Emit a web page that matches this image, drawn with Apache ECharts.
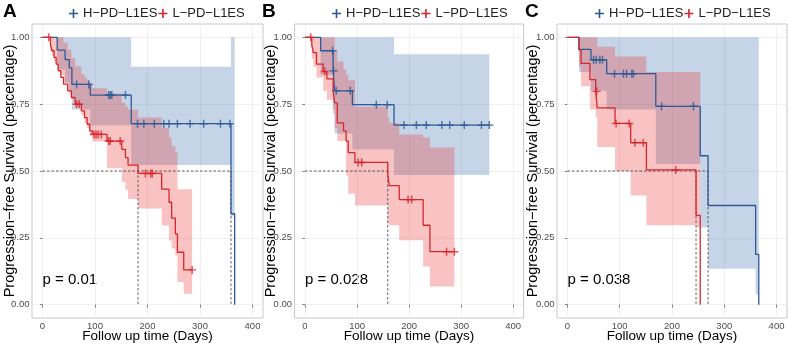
<!DOCTYPE html>
<html>
<head>
<meta charset="utf-8">
<title>Progression-free survival by PD-L1ES</title>
<script src="https://cdn.jsdelivr.net/npm/echarts@6/dist/echarts.min.js"></script>
<style>
  html, body { margin: 0; padding: 0; background: #fff; }
  #chart { width: 788px; height: 346px; }
</style>
</head>
<body>
<div id="chart"></div>
<script>
const xTicks = [0, 100, 200, 300, 400]
const yTicks = [0, 0.25, 0.5, 0.75, 1]
const groupNames = ['H−PD−L1ES', 'L−PD−L1ES']
const panelLetters = ['A', 'B', 'C']
const pLabels = ['p = 0.01', 'p = 0.028', 'p = 0.038']

// panel A
const aHighTime = [0, 28, 43, 51, 56, 91, 169, 359, 366]
const aHighSurv = [1, 0.952, 0.917, 0.886, 0.824, 0.784, 0.677, 0.34, 0]
const aHighUpper = [1, 1, 1, 1, 1, 1, 0.89, 1, 1]
const aHighLower = [1, 0.88, 0.83, 0.79, 0.73, 0.67, 0.522, 0.33, 0.33]
const aHighCensor = [65, 88, 126, 129, 132, 158, 181, 193, 213, 231, 241, 257, 281, 307, 339, 357]
const aLowTime = [0, 15, 18, 22, 26, 30, 35, 40, 48, 55, 62, 74, 80, 85, 90, 95, 123, 151, 158, 163, 182, 227, 241, 246, 253, 257, 269, 285]
const aLowSurv = [1, 0.975, 0.95, 0.925, 0.9, 0.875, 0.85, 0.825, 0.8, 0.775, 0.75, 0.725, 0.7, 0.675, 0.65, 0.637, 0.612, 0.581, 0.55, 0.522, 0.491, 0.432, 0.383, 0.324, 0.265, 0.196, 0.13, 0.13]
const aLowUpper = [1, 1, 1, 1, 1, 1, 1, 0.98, 0.954, 0.923, 0.892, 0.861, 0.85, 0.84, 0.83, 0.81, 0.79, 0.755, 0.74, 0.73, 0.7, 0.662, 0.625, 0.594, 0.57, 0.432, 0.432, 0.432]
const aLowLower = [1, 0.95, 0.93, 0.91, 0.9, 0.88, 0.86, 0.83, 0.8, 0.77, 0.74, 0.71, 0.68, 0.66, 0.63, 0.61, 0.51, 0.46, 0.43, 0.395, 0.36, 0.296, 0.24, 0.21, 0.184, 0.085, 0.041, 0.041]
const aLowCensor = [12, 65, 70, 98, 102, 106, 112, 126, 129, 148, 196, 206, 209, 285]
const aMedians = [182, 359]

// panel B
const bHighTime = [0, 30, 54, 57, 91, 171, 354]
const bHighSurv = [1, 0.95, 0.875, 0.8, 0.748, 0.672, 0.672]
const bHighUpper = [1, 1, 1, 1, 1, 0.937, 0.937]
const bHighLower = [1, 0.86, 0.73, 0.64, 0.58, 0.485, 0.485]
const bHighCensor = [53, 55, 60, 87, 137, 158, 190, 214, 233, 263, 278, 306, 339, 354]
const bLowTime = [0, 13, 16, 22, 35, 42, 54, 57, 62, 74, 79, 83, 96, 159, 162, 181, 227, 240, 287]
const bLowSurv = [1, 0.971, 0.943, 0.9, 0.872, 0.845, 0.8, 0.755, 0.68, 0.65, 0.612, 0.569, 0.532, 0.483, 0.445, 0.393, 0.297, 0.198, 0.198]
const bLowUpper = [1, 1, 1, 1, 1, 1, 1, 0.95, 0.91, 0.88, 0.86, 0.84, 0.74, 0.7, 0.68, 0.637, 0.625, 0.588, 0.588]
const bLowLower = [1, 0.92, 0.89, 0.85, 0.8, 0.767, 0.712, 0.66, 0.612, 0.612, 0.483, 0.415, 0.371, 0.3, 0.297, 0.241, 0.143, 0.068, 0.068]
const bLowCensor = [11, 38, 102, 109, 198, 205, 272, 287]
const bMedians = [159]

// panel C
const cHighTime = [0, 22, 45, 75, 169, 254, 269, 360, 366]
const cHighSurv = [1, 0.955, 0.916, 0.864, 0.742, 0.557, 0.371, 0.188, 0]
const cHighUpper = [1, 1, 1, 1, 1, 1, 1, 1, 1]
const cHighLower = [1, 0.87, 0.8, 0.73, 0.526, 0.289, 0.134, 0.037, 0.037]
const cHighCensor = [50, 55, 62, 67, 90, 107, 113, 123, 126, 180, 241]
const cLowTime = [0, 22, 26, 43, 54, 57, 91, 121, 151, 246, 254]
const cLowSurv = [1, 0.953, 0.903, 0.842, 0.798, 0.736, 0.678, 0.606, 0.504, 0.334, 0]
const cLowUpper = [1, 1, 1, 1, 1, 0.965, 0.928, 0.928, 0.87, 0.87, 0.87]
const cLowLower = [1, 0.89, 0.817, 0.73, 0.7, 0.59, 0.5, 0.408, 0.297, 0.29, 0.29]
const cLowCensor = [56, 93, 118, 129, 145, 207]
const cMedians = [246, 269]

const lineColors = ['#2c5a96', '#d8262b']
const bandColors = ['rgba(50, 100, 170, 0.28)', 'rgba(235, 40, 40, 0.28)']
const plusIcon = 'path://M-0.9,-5H0.9V-0.9H5V0.9H0.9V5H-0.9V0.9H-5V-0.9H-0.9Z'
const fontFamily = '"Liberation Sans", Arial, sans-serif'

const panels = [
  {
    groups: [
      { time: aHighTime, surv: aHighSurv, upper: aHighUpper, lower: aHighLower, censor: aHighCensor },
      { time: aLowTime, surv: aLowSurv, upper: aLowUpper, lower: aLowLower, censor: aLowCensor }
    ],
    medians: aMedians
  },
  {
    groups: [
      { time: bHighTime, surv: bHighSurv, upper: bHighUpper, lower: bHighLower, censor: bHighCensor },
      { time: bLowTime, surv: bLowSurv, upper: bLowUpper, lower: bLowLower, censor: bLowCensor }
    ],
    medians: bMedians
  },
  {
    groups: [
      { time: cHighTime, surv: cHighSurv, upper: cHighUpper, lower: cHighLower, censor: cHighCensor },
      { time: cLowTime, surv: cLowSurv, upper: cLowUpper, lower: cLowLower, censor: cLowCensor }
    ],
    medians: cMedians
  }
]

// layout of the three panels
const gridBoxes = [
  { left: 32, width: 231, nameGap: 15, legendLeft: 64, letterX: 3 },
  { left: 294.6, width: 229, nameGap: 16.5, legendLeft: 327, letterX: 262 },
  { left: 557, width: 230, nameGap: 17, legendLeft: 590, letterX: 525 }
]
const gridTop = 24
const gridHeight = 294

function survAt(time, surv, t) {
  let idx = 0
  for (let i = 0; i < time.length; i++) {
    if (time[i] <= t) idx = i
  }
  return surv[idx]
}

function pairs(time, values) {
  return time.map((t, i) => [t, values[i]])
}

// one stepped polygon per confidence band
function bandRenderer(g, color) {
  return (params, api) => {
    const pts = []
    const n = g.time.length
    for (let i = 0; i < n - 1; i++) {
      pts.push(api.coord([g.time[i], g.upper[i]]))
      pts.push(api.coord([g.time[i + 1], g.upper[i]]))
    }
    for (let i = n - 2; i >= 0; i--) {
      pts.push(api.coord([g.time[i + 1], g.lower[i]]))
      pts.push(api.coord([g.time[i], g.lower[i]]))
    }
    return {
      type: 'polygon',
      shape: { points: pts },
      style: { fill: color },
      silent: true
    }
  }
}

function buildSeries() {
  const series = []

  panels.forEach((panel, p) => {
    const axis = { xAxisIndex: p, yAxisIndex: p }

    panel.groups.forEach((g, gi) => {
      series.push({
        type: 'custom', ...axis, z: 1 + gi, silent: true,
        renderItem: bandRenderer(g, bandColors[gi]),
        data: [[g.time[0], g.upper[0]]]
      })
    })

    // median reference lines
    const dashStyle = { color: '#3a3a3a', width: 0.8, type: [2.5, 2] }
    const medianEnd = Math.max(...panel.medians)
    series.push({
      type: 'line', ...axis, symbol: 'none', silent: true, z: 3,
      lineStyle: dashStyle,
      data: [[0, 0.5], [medianEnd, 0.5]]
    })
    panel.medians.forEach((m) => {
      series.push({
        type: 'line', ...axis, symbol: 'none', silent: true, z: 3,
        lineStyle: dashStyle,
        data: [[m, 0.5], [m, 0]]
      })
    })

    // survival curves and censor marks
    panel.groups.forEach((g, gi) => {
      series.push({
        name: groupNames[gi],
        type: 'line', ...axis, step: 'end', symbol: 'none', z: 5,
        itemStyle: { color: lineColors[gi] },
        lineStyle: { color: lineColors[gi], width: 1.3 },
        data: pairs(g.time, g.surv)
      })
      series.push({
        type: 'scatter', ...axis, symbol: plusIcon, symbolSize: 8, z: 6, silent: true,
        itemStyle: { color: lineColors[gi] },
        data: g.censor.map((t) => [t, survAt(g.time, g.surv, t)])
      })
    })
  })

  return series
}

const chart = echarts.init(document.getElementById('chart'), null, { renderer: 'canvas' })

chart.setOption({
  animation: false,
  backgroundColor: '#fff',
  textStyle: { fontFamily },
  legend: gridBoxes.map((box) => ({
    left: box.legendLeft,
    top: 2,
    itemWidth: 9,
    itemHeight: 9,
    itemGap: 1,
    selectedMode: false,
    textStyle: { fontSize: 13, color: '#222', fontFamily },
    data: groupNames.map((name, gi) => ({ name, icon: plusIcon, itemStyle: { color: lineColors[gi] } }))
  })),
  grid: gridBoxes.map((box) => ({
    left: box.left,
    top: gridTop,
    width: box.width,
    height: gridHeight,
    show: true,
    borderColor: '#c8c8c8',
    borderWidth: 1,
    backgroundColor: 'transparent',
    outerBoundsMode: 'none'
  })),
  xAxis: gridBoxes.map((box, p) => ({
    type: 'value',
    gridIndex: p,
    min: -20,
    max: 420,
    axisLine: { show: false },
    axisTick: { show: true, customValues: xTicks, length: 3, lineStyle: { color: '#666', width: 0.8 } },
    axisLabel: { customValues: xTicks, margin: 3, fontSize: 9.5, color: '#4d4d4d' },
    splitLine: { show: true, lineStyle: { color: '#ececec', width: 0.8 } },
    name: 'Follow up time (Days)',
    nameLocation: 'middle',
    nameGap: 11,
    nameMoveOverlap: false,
    nameTextStyle: { fontSize: 13.5, color: '#000' }
  })),
  yAxis: gridBoxes.map((box, p) => ({
    type: 'value',
    gridIndex: p,
    min: -0.05,
    max: 1.05,
    axisLine: { show: false },
    axisTick: { show: true, customValues: yTicks, length: 2.5, lineStyle: { color: '#666', width: 0.8 } },
    axisLabel: {
      customValues: yTicks, margin: 2.5, fontSize: 9.5, color: '#4d4d4d',
      formatter: (v) => v.toFixed(2)
    },
    splitLine: { show: true, lineStyle: { color: '#ececec', width: 0.8 } },
    name: 'Progression−free Survival (percentage)',
    nameLocation: 'middle',
    nameGap: box.nameGap,
    nameMoveOverlap: false,
    nameTextStyle: { fontSize: 14.5, color: '#000' }
  })),
  graphic: gridBoxes.flatMap((box, p) => [
    {
      type: 'text', left: box.letterX, top: 2, silent: true,
      style: { text: panelLetters[p], font: `bold 19px ${fontFamily}`, fill: '#000' }
    },
    {
      type: 'text', x: box.left + box.width * 20 / 440, y: 280, silent: true,
      style: { text: pLabels[p], font: `15px ${fontFamily}`, fill: '#000', verticalAlign: 'middle' }
    }
  ]),
  series: buildSeries()
})
</script>
</body>
</html>
